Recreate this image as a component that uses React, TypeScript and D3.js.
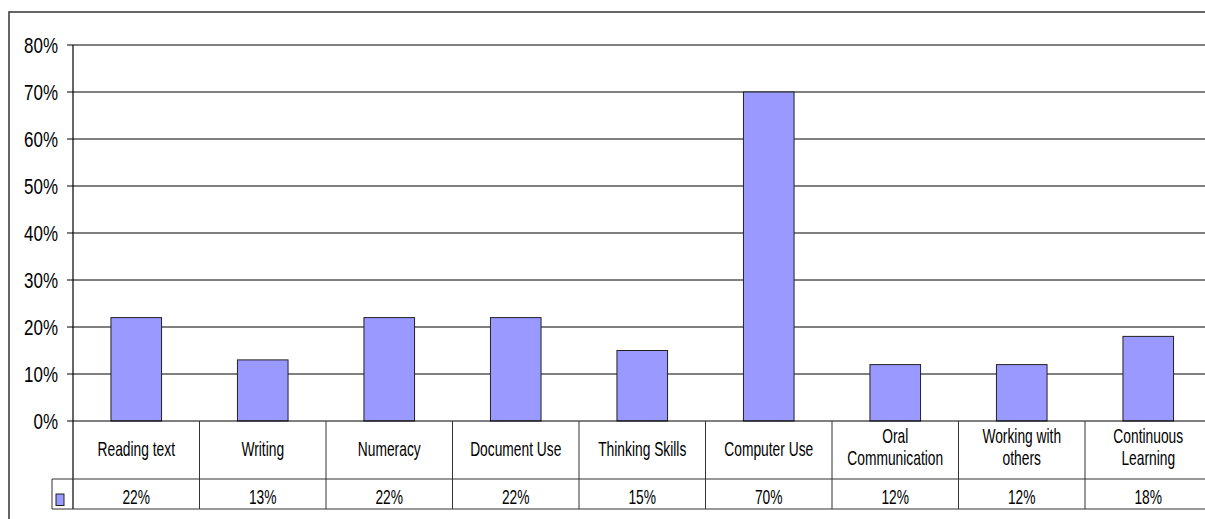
import React from "react";
import * as d3 from "d3";

// Share of respondents by essential skill
const categories: string[][] = [
  ["Reading text"],
  ["Writing"],
  ["Numeracy"],
  ["Document Use"],
  ["Thinking Skills"],
  ["Computer Use"],
  ["Oral", "Communication"],
  ["Working with", "others"],
  ["Continuous", "Learning"],
];
const values: number[] = [22, 13, 22, 22, 15, 70, 12, 12, 18];
const yTicks: number[] = [0, 10, 20, 30, 40, 50, 60, 70, 80];

const W = 1205;
const H = 519;
const FONT = "'Liberation Sans', Arial, Helvetica, sans-serif";
const BAR_FILL = "#9999ff";

export default function App() {
  const left = 73;
  const right = 1211.5;
  const top = 45;
  const bottom = 421;
  const row1Bottom = 479;
  const row2Bottom = 509;
  const legendLeft = 52;

  const keys = categories.map((c) => c.join(" "));
  const x = d3.scaleBand<string>().domain(keys).range([left, right]).paddingInner(0.6).paddingOuter(0.3);
  const y = d3.scaleLinear().domain([0, 80]).range([bottom, top]);
  const step = x.step();
  const colLeft = (i: number) => left + i * step;

  const scaledText = (
    key: string,
    tx: number,
    ty: number,
    str: string,
    size: number,
    sx: number,
    anchor: "middle" | "end" = "middle"
  ) => (
    <text
      key={key}
      transform={`translate(${tx},${ty}) scale(${sx},1)`}
      textAnchor={anchor}
      fontFamily={FONT}
      fontSize={size}
      fill="#000"
    >
      {str}
    </text>
  );

  return (
    <svg
      width={W}
      height={H}
      style={{ position: "absolute", left: 0, top: 0, background: "#fff", overflow: "hidden" }}
    >
      {/* chart frame (runs off the right and bottom edges) */}
      <path d={`M9,${H + 10} V12 H${W + 30}`} fill="none" stroke="#333" strokeWidth={1.5} />

      {/* gridlines */}
      {yTicks.filter((t) => t > 0).map((t) => (
        <line key={`g${t}`} x1={left} x2={right} y1={y(t)} y2={y(t)} stroke="#000" strokeWidth={1} />
      ))}

      {/* y tick marks and labels */}
      {yTicks.map((t) => (
        <g key={`t${t}`}>
          <line x1={left - 6} x2={left} y1={y(t)} y2={y(t)} stroke="#000" strokeWidth={1} />
          {scaledText(`tl${t}`, 58, y(t) + 7.5, `${t}%`, 22, 0.77, "end")}
        </g>
      ))}

      {/* bars */}
      {values.map((v, i) => (
        <rect
          key={`b${i}`}
          x={x(keys[i])!}
          y={y(v)}
          width={x.bandwidth()}
          height={y(0) - y(v)}
          fill={BAR_FILL}
          stroke="#222"
          strokeWidth={1}
        />
      ))}

      {/* data table */}
      <line x1={left} x2={right} y1={bottom} y2={bottom} stroke="#000" strokeWidth={1.2} />
      <line x1={left} x2={left} y1={top} y2={row2Bottom} stroke="#000" strokeWidth={1.2} />
      <line x1={legendLeft} x2={right} y1={row1Bottom} y2={row1Bottom} stroke="#333" strokeWidth={1} />
      <line x1={legendLeft} x2={right} y1={row2Bottom} y2={row2Bottom} stroke="#333" strokeWidth={1} />
      <line x1={legendLeft} x2={legendLeft} y1={row1Bottom} y2={row2Bottom} stroke="#333" strokeWidth={1} />
      {keys.slice(0, -1).map((k, i) => (
        <line
          key={`d${i}`}
          x1={colLeft(i + 1)}
          x2={colLeft(i + 1)}
          y1={bottom}
          y2={row2Bottom}
          stroke="#333"
          strokeWidth={1}
        />
      ))}

      {/* legend key */}
      <rect x={56} y={494} width={8} height={11.5} fill={BAR_FILL} stroke="#222" strokeWidth={1} />

      {/* category labels */}
      {categories.map((lines, i) => {
        const cx = colLeft(i) + step / 2;
        if (lines.length === 1) {
          return scaledText(`c${i}`, cx, 456, lines[0], 20, 0.69);
        }
        return (
          <g key={`c${i}`}>
            {scaledText(`c${i}a`, cx, 443, lines[0], 20, 0.69)}
            {scaledText(`c${i}b`, cx, 465, lines[1], 20, 0.69)}
          </g>
        );
      })}

      {/* value row */}
      {values.map((v, i) => scaledText(`v${i}`, colLeft(i) + step / 2, 504, `${v}%`, 20, 0.69))}
    </svg>
  );
}
